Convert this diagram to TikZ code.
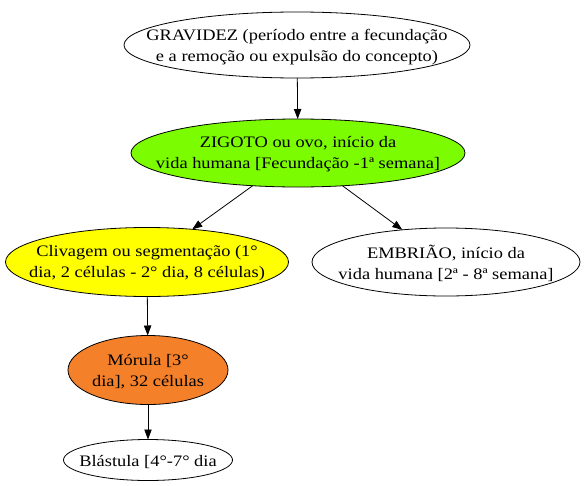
\documentclass[tikz,border=0pt]{standalone}
\usepackage{fontspec}
\setmainfont{Liberation Serif}[FakeStretch=1.15]
\usetikzlibrary{shapes.geometric,arrows.meta}
\definecolor{zgreen}{HTML}{7CFC00}
\definecolor{cyellow}{HTML}{FFFF00}
\definecolor{morange}{HTML}{F5802A}
\tikzset{
  x=0.75pt, y=-0.75pt,
  ell/.style={ellipse, draw=black, line width=0.6pt, inner sep=0pt, outer sep=0pt},
  txt/.style={align=center, font=\fontsize{12}{15.75}\selectfont, inner sep=0pt, yshift=-1.2pt},
  edge/.style={draw=black, line width=0.6pt, -{Triangle[length=7.5pt,width=5.5pt]}}
}
\begin{document}
\begin{tikzpicture}
\useasboundingbox (0,0) rectangle (584,485);
\node[ell, fill=white, minimum width=346*0.75pt, minimum height=66*0.75pt,
  label={[txt]center:GRAVIDEZ (período entre a fecundação\\e a remoção ou expulsão do concepto)}] (grav) at (297,45) {};
\node[ell, fill=zgreen, minimum width=334*0.75pt, minimum height=68*0.75pt,
  label={[txt]center:ZIGOTO ou ovo, início da\\vida humana [Fecundação -1ª semana]}] (zig) at (298,153) {};
\node[ell, fill=cyellow, minimum width=283*0.75pt, minimum height=69*0.75pt,
  label={[txt]center:Clivagem ou segmentação (1°\\dia, 2 células - 2° dia, 8 células)}] (cliv) at (147,262) {};
\node[ell, fill=white, minimum width=268*0.75pt, minimum height=68*0.75pt,
  label={[txt]center:EMBRIÃO, início da\\vida humana [2ª - 8ª semana]}] (emb) at (446,262) {};
\node[ell, fill=morange, minimum width=160*0.75pt, minimum height=69*0.75pt,
  label={[txt]center:Mórula [3°\\dia], 32 células}] (mor) at (148,370) {};
\node[ell, fill=white, minimum width=169*0.75pt, minimum height=41*0.75pt,
  label={[txt]center:Blástula [4°-7° dia}] (bla) at (148,460) {};
\draw[edge] (grav) -- (zig);
\draw[edge] (zig) -- (cliv);
\draw[edge] (zig) -- (emb);
\draw[edge] (cliv) -- (mor);
\draw[edge] (mor) -- (bla);
\end{tikzpicture}
\end{document}
